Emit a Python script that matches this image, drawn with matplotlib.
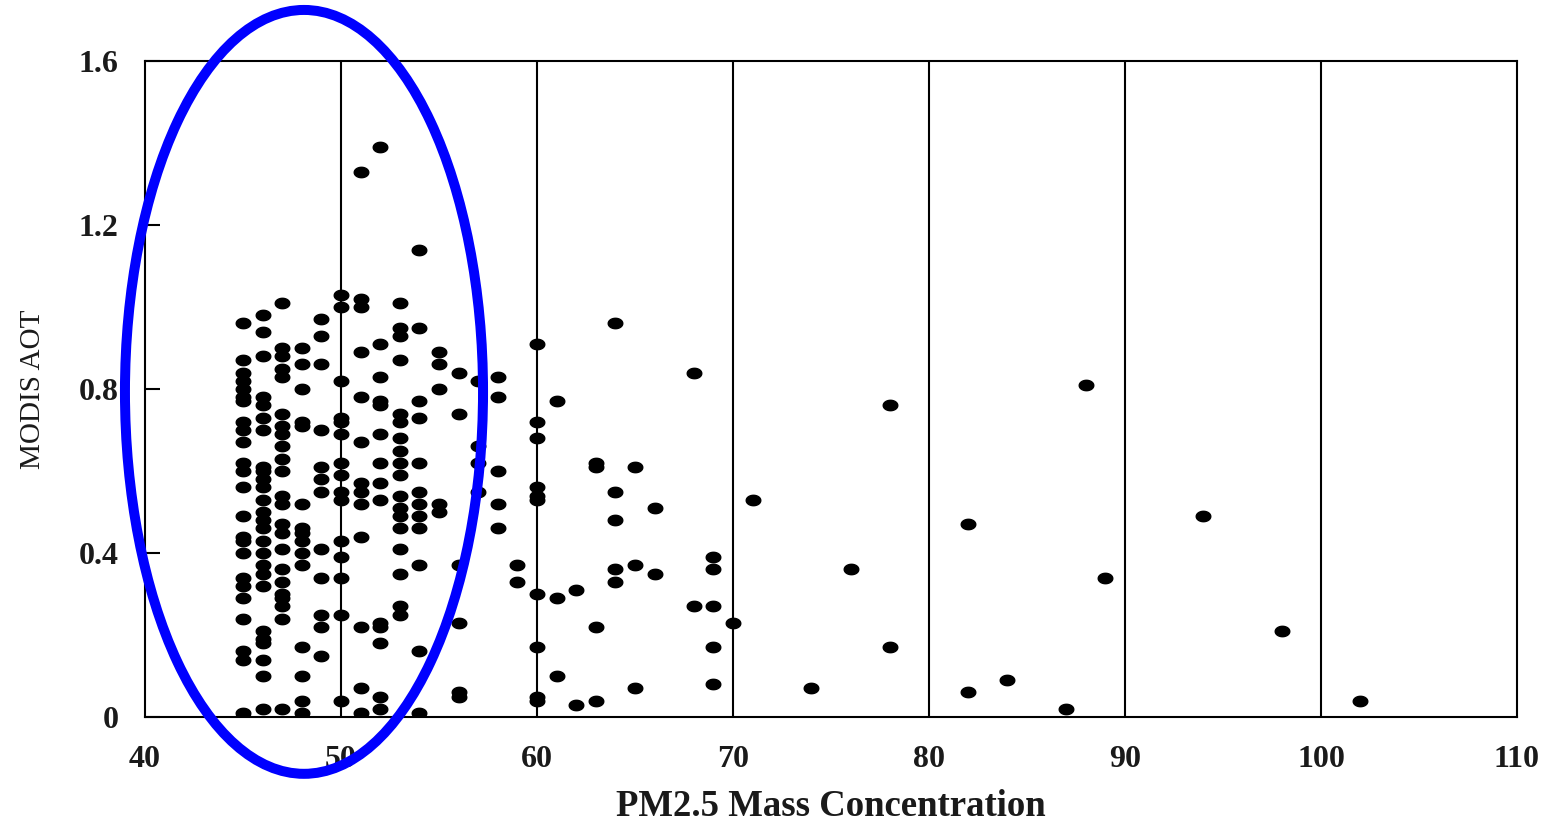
import matplotlib
import matplotlib.pyplot as plt
import numpy as np
from matplotlib.path import Path
from matplotlib.patches import Ellipse

matplotlib.use('Agg')

# PM2.5 levels (x) and the MODIS AOT values observed at each level
pm25_levels = [45, 46, 47, 48, 49, 50, 51, 52, 53, 54, 55, 56, 57, 58, 59, 60,
               61, 62, 63, 64, 65, 66, 68, 69, 70, 71, 74, 76, 78, 82, 84, 87,
               88, 89, 94, 98, 102]
aot_values = [
    [0.96, 0.87, 0.84, 0.82, 0.80, 0.78, 0.77, 0.72, 0.70, 0.67, 0.62, 0.60, 0.56,
     0.49, 0.44, 0.43, 0.40, 0.34, 0.32, 0.29, 0.24, 0.16, 0.14, 0.01, 0.0],
    [0.98, 0.94, 0.88, 0.78, 0.76, 0.73, 0.70, 0.61, 0.60, 0.58, 0.56, 0.53, 0.50,
     0.48, 0.46, 0.43, 0.40, 0.37, 0.35, 0.32, 0.21, 0.19, 0.18, 0.14, 0.10, 0.02],
    [1.01, 0.90, 0.88, 0.85, 0.83, 0.74, 0.71, 0.69, 0.66, 0.63, 0.60, 0.54, 0.52,
     0.47, 0.45, 0.41, 0.36, 0.33, 0.30, 0.29, 0.27, 0.24, 0.02],
    [0.90, 0.86, 0.80, 0.72, 0.71, 0.52, 0.46, 0.45, 0.43, 0.40, 0.37, 0.17, 0.10, 0.04, 0.01],
    [0.97, 0.93, 0.86, 0.70, 0.61, 0.58, 0.55, 0.41, 0.34, 0.25, 0.22, 0.15],
    [1.03, 1.00, 0.82, 0.73, 0.72, 0.69, 0.62, 0.59, 0.55, 0.53, 0.43, 0.39, 0.34, 0.25, 0.04],
    [1.33, 1.02, 1.00, 0.89, 0.78, 0.67, 0.57, 0.55, 0.52, 0.44, 0.22, 0.07, 0.01],
    [1.39, 0.91, 0.83, 0.77, 0.76, 0.69, 0.62, 0.57, 0.53, 0.23, 0.22, 0.18, 0.05, 0.02],
    [1.01, 0.95, 0.93, 0.87, 0.74, 0.72, 0.68, 0.65, 0.62, 0.59, 0.54, 0.51, 0.49,
     0.46, 0.41, 0.35, 0.27, 0.25],
    [1.14, 0.95, 0.77, 0.73, 0.62, 0.55, 0.52, 0.49, 0.46, 0.37, 0.16, 0.01],
    [0.89, 0.86, 0.80, 0.52, 0.50],
    [0.84, 0.74, 0.37, 0.23, 0.06, 0.05],
    [0.82, 0.66, 0.62, 0.55],
    [0.83, 0.78, 0.60, 0.52, 0.46],
    [0.37, 0.33],
    [0.91, 0.72, 0.68, 0.56, 0.54, 0.53, 0.30, 0.17, 0.05, 0.04],
    [0.77, 0.29, 0.10],
    [0.31, 0.03],
    [0.62, 0.61, 0.22, 0.04],
    [0.96, 0.55, 0.48, 0.36, 0.33],
    [0.61, 0.37, 0.07],
    [0.51, 0.35],
    [0.84, 0.27],
    [0.39, 0.36, 0.27, 0.17, 0.08],
    [0.23],
    [0.53],
    [0.07],
    [0.36],
    [0.76, 0.17],
    [0.47, 0.06],
    [0.09],
    [0.02],
    [0.81],
    [0.34],
    [0.49],
    [0.21],
    [0.04],
]
x_ticks = [40, 50, 60, 70, 80, 90, 100, 110]
y_ticks = [0, 0.4, 0.8, 1.2, 1.6]
y_ticklabels = ['0', '0.4', '0.8', '1.2', '1.6']

pm25 = [x for x, ys in zip(pm25_levels, aot_values) for _ in ys]
aot = [y for ys in aot_values for y in ys]

# slightly flattened dot, like the original
t = np.linspace(0, 2 * np.pi, 40)
dot = Path(np.column_stack([0.7 * np.cos(t), 0.5 * np.sin(t)]), closed=True)

fig = plt.figure(figsize=(15.53, 8.22), dpi=100)
ax = fig.add_axes([0.0934, 0.1277, 0.8834, 0.7981])

ax.plot(pm25, aot, linestyle='none', marker=dot, markersize=10.5, color='black', zorder=3)

ax.set_xlim(40, 110)
ax.set_ylim(0, 1.6)
ax.set_xticks(x_ticks)
ax.set_yticks(y_ticks)
ax.set_yticklabels(y_ticklabels)

for xv in x_ticks[1:-1]:
    ax.axvline(xv, color='black', linewidth=1.5, zorder=2)

for s in ax.spines.values():
    s.set_linewidth(1.5)

ax.tick_params(axis='x', length=0, pad=20)
ax.tick_params(axis='y', direction='in', length=11, width=1.5, pad=19)
for lab in ax.get_xticklabels() + ax.get_yticklabels():
    lab.set_fontfamily('Liberation Serif')
    lab.set_fontweight('bold')
    lab.set_fontsize(23)
    lab.set_color('#1a1a1a')

ax.set_xlabel('PM2.5 Mass Concentration', fontfamily='Liberation Serif',
              fontweight='bold', fontsize=26.5, color='#1a1a1a')
ax.xaxis.set_label_coords(0.5, -0.11)
ax.set_ylabel('MODIS AOT', fontfamily='Liberation Serif', fontsize=21, color='#1a1a1a')
ax.yaxis.set_label_coords(-0.072, 0.5)

# highlight ring around the dense cluster
ring = Ellipse((48.11, 0.793), width=18.27, height=1.863, fill=False,
               edgecolor='#0000ff', linewidth=7.2, clip_on=False, zorder=5)
ax.add_patch(ring)

plt.savefig('out.png', dpi=100)
plt.close()
